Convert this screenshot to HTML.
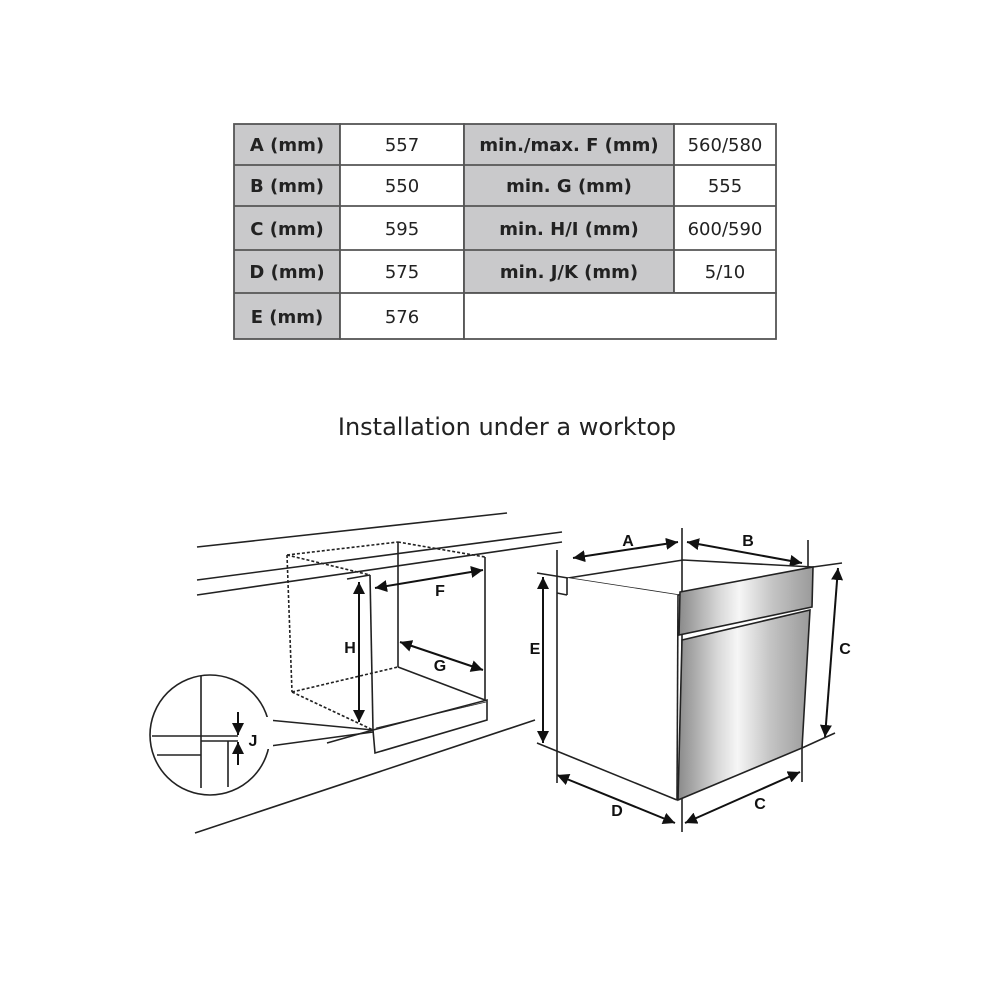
<!DOCTYPE html>
<html><head><meta charset="utf-8"><style>
html,body{margin:0;padding:0;background:#fff;width:1000px;height:1000px;overflow:hidden}
svg{position:absolute;left:0;top:0}
.t{font-family:"DejaVu Sans","Liberation Sans",sans-serif;font-size:18px;fill:#222;text-anchor:middle}
.b{font-weight:bold}
.l{font-family:"Liberation Sans",sans-serif;font-weight:bold;font-size:16px;fill:#111;text-anchor:middle}
</style></head><body>
<svg width="1000" height="1000" viewBox="0 0 1000 1000">
<defs>
<marker id="ar" viewBox="0 0 10 10" refX="10" refY="5" markerWidth="6" markerHeight="6" orient="auto-start-reverse"><path d="M0,0L10,5L0,10z" fill="#111"/></marker>
<linearGradient id="mg" x1="0" x2="1" y1="0" y2="0">
<stop offset="0" stop-color="#8a8a8a"/><stop offset="0.3" stop-color="#d8d8d8"/><stop offset="0.45" stop-color="#f6f6f6"/><stop offset="0.7" stop-color="#c4c4c4"/><stop offset="1" stop-color="#9a9a9a"/></linearGradient>
</defs>
<g stroke="#555" stroke-width="1.8">
<rect x="234" y="124" width="106" height="215" fill="#c9c9cb"/>
<rect x="340" y="124" width="124" height="215" fill="#fff"/>
<rect x="464" y="124" width="210" height="169" fill="#c9c9cb"/>
<rect x="674" y="124" width="102" height="169" fill="#fff"/>
<rect x="464" y="293" width="312" height="46" fill="#fff"/>
<line x1="234" y1="165" x2="776" y2="165"/><line x1="234" y1="206" x2="776" y2="206"/>
<line x1="234" y1="250" x2="776" y2="250"/><line x1="234" y1="293" x2="464" y2="293"/>
</g>
<g class="t">
<text class="b" x="287" y="151">A (mm)</text><text x="402" y="151">557</text><text class="b" x="569" y="151">min./max. F (mm)</text><text x="725" y="151">560/580</text>
<text class="b" x="287" y="192">B (mm)</text><text x="402" y="192">550</text><text class="b" x="569" y="192">min. G (mm)</text><text x="725" y="192">555</text>
<text class="b" x="287" y="235">C (mm)</text><text x="402" y="235">595</text><text class="b" x="569" y="235">min. H/I (mm)</text><text x="725" y="235">600/590</text>
<text class="b" x="287" y="278">D (mm)</text><text x="402" y="278">575</text><text class="b" x="569" y="278">min. J/K (mm)</text><text x="725" y="278">5/10</text>
<text class="b" x="287" y="323">E (mm)</text><text x="402" y="323">576</text>
</g>
<text x="507" y="435" style="font-family:'DejaVu Sans','Liberation Sans',sans-serif;font-size:24px;fill:#222;text-anchor:middle">Installation under a worktop</text>
<g stroke="#222" stroke-width="1.6" fill="none">
<line x1="197" y1="547" x2="507" y2="513"/>
<line x1="197" y1="580" x2="562" y2="532"/>
<line x1="197" y1="595" x2="562" y2="542"/>
<line x1="195" y1="833" x2="535" y2="720"/>
<g stroke-dasharray="3,2">
<line x1="287" y1="555" x2="398" y2="542"/><line x1="398" y1="542" x2="485" y2="557"/>
<line x1="287" y1="555" x2="370" y2="575"/><line x1="287" y1="555" x2="292" y2="692"/>
<line x1="292" y1="692" x2="398" y2="667"/><line x1="292" y1="692" x2="373" y2="730"/>
</g>
<line x1="347" y1="579" x2="370" y2="575"/>
<line x1="370" y1="575" x2="373" y2="730"/>
<line x1="398" y1="542" x2="398" y2="667"/>
<line x1="485" y1="557" x2="485" y2="700"/>
<line x1="398" y1="667" x2="485" y2="700"/>
<polygon points="373,730 487,700 487,720 375,753" fill="#fff"/>
<line x1="376" y1="728" x2="486" y2="702" stroke-width="0.8"/>
<line x1="327" y1="743" x2="373" y2="730"/>
<circle cx="210" cy="735" r="60"/>
<line x1="268" y1="720" x2="373" y2="730"/>
<line x1="270" y1="746" x2="373" y2="732"/>
<line x1="201" y1="676" x2="201" y2="788"/>
<line x1="152" y1="736" x2="238" y2="736"/>
<line x1="201" y1="741" x2="238" y2="741"/>
<line x1="157" y1="755" x2="201" y2="755"/>
<line x1="228" y1="741" x2="228" y2="787"/>
</g>
<rect x="264" y="717" width="9" height="32" fill="#fff"/>
<g stroke="#111" stroke-width="2" fill="none" marker-end="url(#ar)">
<line x1="238" y1="712" x2="238" y2="735"/>
<line x1="238" y1="765" x2="238" y2="742"/>
</g>
<g stroke="#111" stroke-width="2" fill="none" marker-start="url(#ar)" marker-end="url(#ar)">
<line x1="359" y1="582" x2="359" y2="722"/>
<line x1="375" y1="588" x2="483" y2="570"/>
<line x1="400" y1="642" x2="483" y2="670"/>
<line x1="573" y1="558" x2="678" y2="542"/>
<line x1="687" y1="542" x2="802" y2="563"/>
<line x1="838" y1="568" x2="825" y2="737"/>
<line x1="543" y1="577" x2="543" y2="743"/>
<line x1="557" y1="775" x2="675" y2="823"/>
<line x1="685" y1="823" x2="800" y2="772"/>
</g>
<g class="l">
<text x="350" y="653">H</text><text x="440" y="596">F</text><text x="440" y="671">G</text><text x="253" y="746">J</text>
<text x="628" y="546">A</text><text x="748" y="546">B</text><text x="845" y="654">C</text><text x="535" y="654">E</text>
<text x="617" y="816">D</text><text x="760" y="809">C</text>
</g>
<g stroke="#222" stroke-width="1.6" fill="none">
<polygon points="568,578 683,560 813,567 678,595" fill="#fff"/>
<polygon points="557,583 568,578 678,595 677,800 537,743 557,743" fill="#fff" stroke="none"/>
<line x1="557" y1="550" x2="557" y2="783"/>
<line x1="537" y1="573" x2="568" y2="578"/>
<line x1="537" y1="743" x2="677" y2="800"/>
<line x1="557" y1="593" x2="567" y2="595"/><line x1="567" y1="578" x2="567" y2="595"/>
<line x1="682" y1="528" x2="682" y2="832"/>
<line x1="808" y1="540" x2="808" y2="568"/>
<line x1="802" y1="743" x2="802" y2="782"/>
<line x1="813" y1="567" x2="842" y2="563"/>
<line x1="802" y1="748" x2="835" y2="733"/>
<polygon points="680,592 813,567 812,607 679,635" fill="url(#mg)"/>
<polygon points="682,640 810,610 802,748 678,800" fill="url(#mg)"/>
<line x1="678" y1="595" x2="677" y2="800"/>
</g>
</svg>
</body></html>
